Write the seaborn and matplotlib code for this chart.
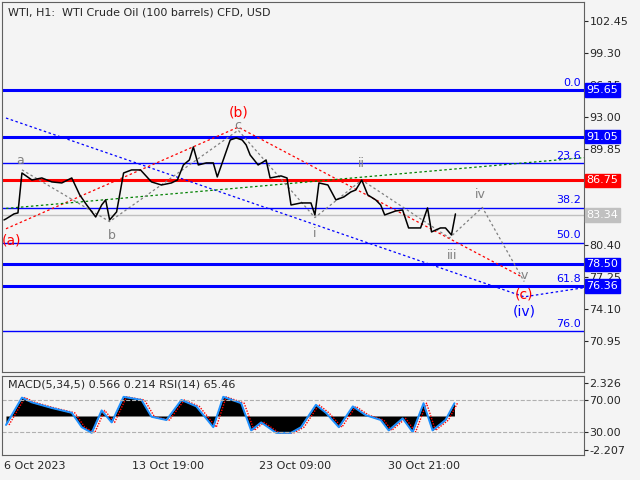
import numpy as np
import pandas as pd
import matplotlib
matplotlib.use('Agg')
import matplotlib.pyplot as plt
import matplotlib.transforms as mtrans
import seaborn as sns

sns.set_style('white')
plt.rcParams['font.family'] = ['DejaVu Sans']

# Price path (bar position, close)
bar_x = [2, 4, 12, 16, 20, 30, 40, 50, 60, 70, 78, 85, 94, 100, 104, 108, 115, 122, 130, 139,
         150, 160, 170, 176, 182, 188, 192, 197, 205, 212, 216, 222, 229, 235, 241, 245, 249, 257,
         262, 265, 269, 280, 286, 290, 300, 310, 314, 318, 327, 335, 343, 350, 355, 361, 367, 375,
         380, 384, 395, 402, 408, 420, 427, 431, 440, 445, 451, 455]
close = [82.87, 82.97, 83.46, 83.56, 87.49, 86.80, 87.00, 86.61, 86.51, 87.00, 85.33, 84.34, 83.16,
         84.34, 84.84, 82.87, 83.66, 87.49, 87.79, 87.79, 86.61, 86.31, 86.51, 86.80, 88.28, 88.77,
         90.05, 88.28, 88.48, 88.48, 87.10, 88.77, 90.74, 90.94, 90.74, 90.25, 89.26, 88.28, 88.57,
         88.77, 87.00, 87.20, 87.00, 84.34, 84.54, 84.54, 83.36, 86.51, 86.31, 84.84, 85.13, 85.62,
         85.82, 86.80, 85.33, 84.84, 84.34, 83.36, 83.75, 83.85, 82.08, 82.08, 84.05, 81.69, 82.08,
         82.08, 81.39, 83.46]

# RSI / MACD panel
rsi_x = [4, 20, 30, 50, 70, 80, 90, 100, 110, 122, 140, 150, 165, 180, 195, 212, 222, 240, 250, 260,
         275, 290, 300, 315, 325, 338, 352, 365, 380, 388, 402, 412, 423, 432, 445, 454]
rsi = [38.8, 73, 67, 60, 54, 36, 29, 57, 42, 74, 70, 49, 45, 70, 62, 36, 74, 66, 32, 42,
       29, 29, 36, 64, 54, 36, 62, 51, 45, 32, 47, 30, 66, 32, 45, 66]

# horizontal levels: (price, colour, width)
levels = [(95.65, '#0000ff', 2.2), (91.05, '#0000ff', 2.2), (88.45, '#0000ff', 1.0),
          (86.75, '#ff0000', 2.2), (84.05, '#0000ff', 1.0), (83.34, '#c0c0c0', 1.0),
          (80.62, '#0000ff', 1.0), (78.50, '#0000ff', 2.2), (76.36, '#0000ff', 2.2),
          (71.90, '#0000ff', 1.0)]
fib_labels = ['0.0', '23.6', '38.2', '50.0', '61.8', '76.0']
fib_prices = [95.65, 88.45, 84.05, 80.62, 76.36, 71.90]
price_tags = [(95.65, '#0000ff', 'white'), (91.05, '#0000ff', 'white'), (86.75, '#ff0000', 'white'),
              (83.34, '#c0c0c0', 'white'), (78.50, '#0000ff', 'white'), (76.36, '#0000ff', 'white')]
price_ticks = [102.45, 99.30, 96.15, 93.00, 89.85, 86.70, 83.55, 80.40, 77.25, 74.10, 70.95]
hidden_ticks = [86.70, 83.55]

# dotted trend/wave lines
blue_x, blue_y = [4, 524, 584], [92.9, 75.3, 76.2]
red_x, red_y = [4, 237, 521], [82.0, 92.0, 77.3]
green_x, green_y = [4, 584], [84.0, 89.0]
gray_x = [20, 108, 237, 314, 361, 449, 482, 524]
gray_y = [87.8, 82.7, 91.7, 83.1, 86.8, 81.1, 84.1, 76.8]

waves = [('a', 18, 88.7, 'gray'), ('b', 110, 81.3, 'gray'), ('c', 237, 92.2, 'gray'),
         ('(b)', 237, 93.4, 'red'), ('(a)', 10, 80.8, 'red'), ('i', 314, 81.5, 'gray'),
         ('ii', 361, 88.4, 'gray'), ('iii', 452, 79.4, 'gray'), ('iv', 480, 85.4, 'gray'),
         ('v', 524, 77.4, 'gray'), ('(c)', 524, 75.5, 'red'), ('(iv)', 524, 73.9, 'blue')]

date_ticks = [2, 130, 258, 387]
date_labels = ['6 Oct 2023', '13 Oct 19:00', '23 Oct 09:00', '30 Oct 21:00']

bg = '#f4f4f4'
fig = plt.figure(figsize=(6.4, 4.8), dpi=100, facecolor=bg)
ax = fig.add_axes([2 / 640, 108 / 480, 582 / 640, 370 / 480], facecolor=bg)
ax2 = fig.add_axes([2 / 640, 25 / 480, 582 / 640, 79 / 480], facecolor=bg)

for p, c, w in levels:
    ax.axhline(p, color=c, lw=w, zorder=1)
for xs, ys, c in [(blue_x, blue_y, 'blue'), (red_x, red_y, 'red'), (green_x, green_y, 'green'),
                  (gray_x, gray_y, 'gray')]:
    ax.plot(xs, ys, color=c, ls=(0, (2, 2)), lw=0.9, zorder=2)

sns.lineplot(x=bar_x, y=close, ax=ax, color='black', lw=1.1, zorder=3)

for lab, p in zip(fib_labels, fib_prices):
    ax.text(581, p + 0.25, lab, color='blue', fontsize=8, ha='right', va='bottom')
for name, x, y, c in waves:
    ax.text(x, y, name, color=c, fontsize=10 if name.startswith('(') else 9, ha='center', va='center')

ax.set_xlim(0, 584)
ax.set_ylim(67.9, 104.32)
ax.yaxis.tick_right()
ax.set_yticks(price_ticks)
ax.set_yticklabels(['' if t in hidden_ticks else f'{t:.2f}' for t in price_ticks], fontsize=8)
ax.set_xticks([])
trans = mtrans.blended_transform_factory(ax.transAxes, ax.transData)
for p, fc, tc in price_tags:
    ax.text(1.004, p, f'{p:.2f}', transform=trans, color=tc, fontsize=8, va='center', ha='left',
            bbox=dict(boxstyle='square,pad=0.15', fc=fc, ec=fc), clip_on=False, zorder=5)
ax.text(0.01, 0.985, 'WTI, H1:  WTI Crude Oil (100 barrels) CFD, USD', transform=ax.transAxes,
        fontsize=8, va='top')

rsi_df = pd.DataFrame({'x': rsi_x, 'rsi': rsi})
ax2.fill_between(rsi_df['x'], 50, rsi_df['rsi'], color='black', lw=0)
ax2.plot(rsi_df['x'] + 3, rsi_df['rsi'], color='red', ls=(0, (1, 1)), lw=1)
sns.lineplot(data=rsi_df, x='x', y='rsi', ax=ax2, color='#1e90ff', lw=1.4)
for lv in (70, 30):
    ax2.axhline(lv, color='#b0b0b0', ls='--', lw=0.8)
ax2.set_xlim(0, 584)
ax2.set_ylim(1.25, 100)
ax2.yaxis.tick_right()
ax2.set_yticks([91, 70, 30, 7])
ax2.set_yticklabels(['2.326', '70.00', '30.00', '-2.207'], fontsize=8)
ax2.set_xticks(date_ticks)
ax2.set_xticklabels(date_labels, fontsize=8, ha='left')
ax2.set_xlabel('')
ax2.set_ylabel('')
ax2.text(0.01, 0.95, 'MACD(5,34,5) 0.566 0.214 RSI(14) 65.46', transform=ax2.transAxes,
         fontsize=8, va='top')
for a in (ax, ax2):
    for s in a.spines.values():
        s.set_color('#606060')
    a.tick_params(length=3, pad=1)

fig.savefig('out.png', dpi=100, facecolor=bg)
